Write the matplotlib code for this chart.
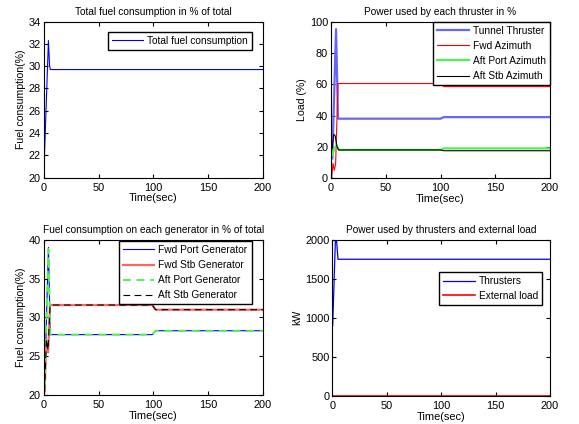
import matplotlib

matplotlib.use("Agg")
import matplotlib.pyplot as plt  # noqa: E402

plt.rcParams.update({
    "font.family": ["Liberation Sans", "DejaVu Sans"],
    "font.size": 7.3,
    "xtick.labelsize": 7.9,
    "ytick.labelsize": 7.9,
    "axes.linewidth": 0.8,
    "xtick.direction": "in",
    "ytick.direction": "in",
    "xtick.top": True,
    "ytick.right": True,
    "xtick.major.size": 3,
    "ytick.major.size": 3,
    "xtick.major.pad": 3.5,
    "ytick.major.pad": 2,
    "legend.fancybox": False,
    "legend.edgecolor": "black",
    "legend.framealpha": 1,
    "legend.handletextpad": 0.4,
    "legend.handlelength": 3.1,
})

# total fuel consumption (%)
t_total = [0.5, 4.3, 5.3, 6.0, 200]
total_fuel = [21.5, 32.3, 30.1, 29.7, 29.7]

# thruster load (%)
t_tunnel = [1.2, 4.6, 6.4, 100, 103, 200]
tunnel = [12.6, 95.3, 38.0, 38.0, 39.0, 39.0]
t_fwd_az = [0.6, 1.8, 3.0, 4.2, 6.4, 100, 103, 200]
fwd_az = [0.0, 9.4, 5.0, 9.0, 60.5, 60.5, 58.5, 58.5]
t_aft_port_az = [1.2, 3.0, 5.2, 7.3, 100, 103, 200]
aft_port_az = [14.7, 19.0, 20.8, 18.0, 18.0, 19.0, 19.0]
t_aft_stb_az = [1.0, 2.5, 3.8, 5.5, 7.0, 100, 103, 200]
aft_stb_az = [19.0, 28.0, 27.0, 20.0, 18.0, 18.0, 17.5, 17.5]

# generator fuel consumption (%)
t_port_gen = [0.8, 4.3, 6.0, 99, 102, 200]
fwd_port_gen = [21.0, 39.0, 27.8, 27.8, 28.3, 28.3]
aft_port_gen = [21.0, 38.8, 27.8, 27.8, 28.3, 28.3]
t_stb_gen = [0.8, 2.4, 4.0, 5.8, 99, 102, 200]
fwd_stb_gen = [20.5, 27.0, 25.5, 31.6, 31.6, 31.0, 31.0]
aft_stb_gen = [20.5, 27.2, 25.8, 31.6, 31.6, 31.0, 31.0]

# power (kW)
t_thrusters = [0.3, 2.8, 3.8, 5.2, 200]
thrusters = [900, 2000, 2000, 1750, 1750]
t_external = [0, 200]
external = [0, 0]

xticks = [0, 50, 100, 150, 200]


def style(ax, title, ylabel, ylim, yticks):
    ax.set_xlim(0, 200)
    ax.set_ylim(*ylim)
    ax.set_xticks(xticks)
    ax.set_yticks(yticks)
    ax.set_title(title, fontsize=7.3, pad=5)
    ax.set_xlabel("Time(sec)", labelpad=0.5, fontsize=7.9)
    ax.set_ylabel(ylabel, labelpad=2, fontsize=7.6)


fig = plt.figure(figsize=(5.79, 4.24), dpi=100)
ax1 = fig.add_axes([0.0755, 0.581, 0.3788, 0.368])
ax2 = fig.add_axes([0.5717, 0.580, 0.3782, 0.3686])
ax3 = fig.add_axes([0.0755, 0.0677, 0.3788, 0.367])
ax4 = fig.add_axes([0.574, 0.066, 0.376, 0.3686])

ax1.plot(t_total, total_fuel, color="blue", lw=0.8, label="Total fuel consumption")
style(ax1, "Total fuel consumption in % of total", "Fuel consumption(%)",
      (20, 34), range(20, 35, 2))
ax1.legend(loc="upper right", bbox_to_anchor=(0.95, 0.934),
           borderaxespad=0, borderpad=0.4)

ax2.plot(t_tunnel, tunnel, color=(0.4, 0.4, 1), lw=1.6, label="Tunnel Thruster")
ax2.plot(t_fwd_az, fwd_az, color="red", lw=0.8, label="Fwd Azimuth")
ax2.plot(t_aft_port_az, aft_port_az, color=(0.3, 0.95, 0.3), lw=1.6, label="Aft Port Azimuth")
ax2.plot(t_aft_stb_az, aft_stb_az, color="black", lw=0.8, label="Aft Stb Azimuth")
style(ax2, "Power used by each thruster in %", "Load (%)", (0, 100), range(0, 101, 20))
ax2.legend(loc="upper right", bbox_to_anchor=(1.0, 1.0),
           borderaxespad=0, labelspacing=0.5)

ax3.plot(t_port_gen, fwd_port_gen, color="blue", lw=0.8, label="Fwd Port Generator")
ax3.plot(t_stb_gen, fwd_stb_gen, color=(1, 0.4, 0.4), lw=1.6, label="Fwd Stb Generator")
ax3.plot(t_port_gen, aft_port_gen, color=(0.3, 0.95, 0.3), lw=1.4, ls=(0, (4, 3)),
         label="Aft Port Generator")
ax3.plot(t_stb_gen, aft_stb_gen, color="black", lw=0.8, ls=(0, (6, 4)), label="Aft Stb Generator")
style(ax3, "Fuel consumption on each generator in % of total", "Fuel consumption(%)",
      (20, 40), range(20, 41, 5))
ax3.legend(loc="upper right", bbox_to_anchor=(0.948, 0.992),
           borderaxespad=0, labelspacing=0.5)

ax4.plot(t_thrusters, thrusters, color="blue", lw=0.9, label="Thrusters")
ax4.plot(t_external, external, color="red", lw=1.2, label="External load")
style(ax4, "Power used by thrusters and external load", "kW", (0, 2000), range(0, 2001, 500))
ax4.legend(loc="upper right", bbox_to_anchor=(0.963, 0.793),
           borderaxespad=0, labelspacing=0.45)

fig.savefig("out.png", dpi=100)
